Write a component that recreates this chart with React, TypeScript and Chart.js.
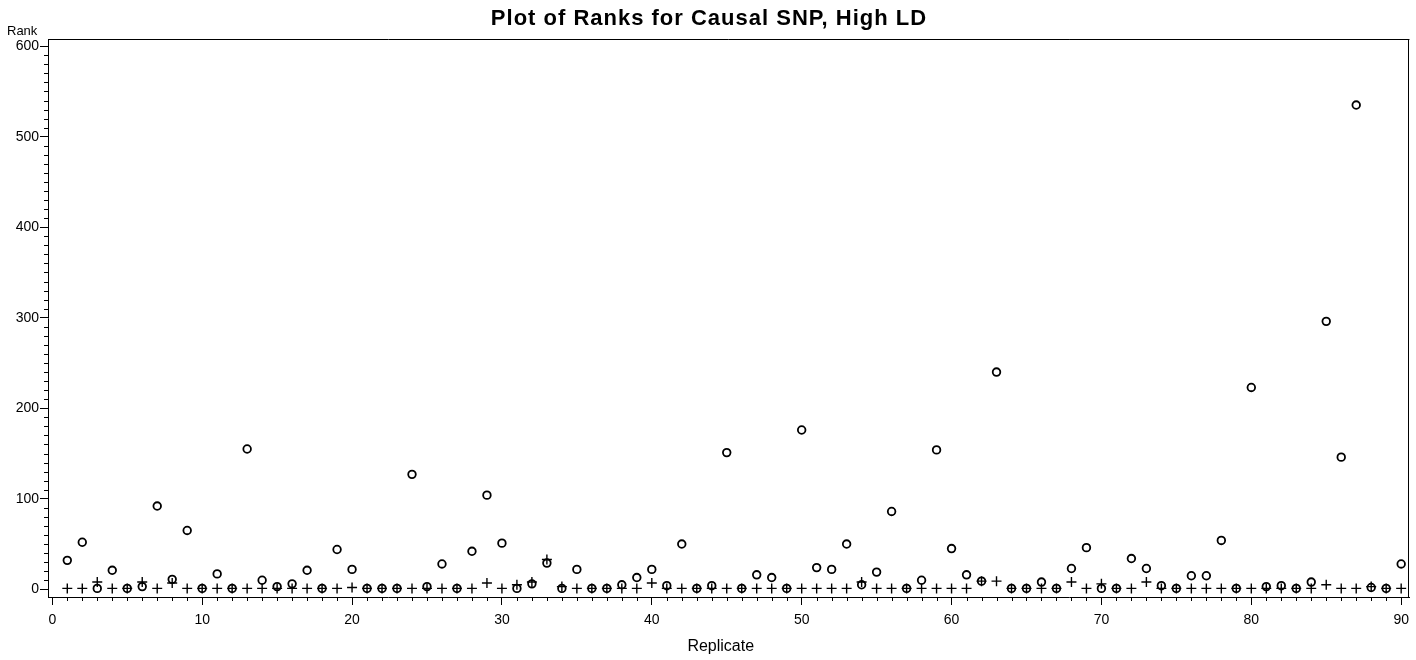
import React, { useEffect, useRef } from "react";
import { Chart, registerables } from "chart.js";

Chart.register(...registerables);

const TITLE = "Plot of Ranks for Causal SNP, High LD";
const Y_LABEL = "Rank";
const X_LABEL = "Replicate";

const replicates = [
  1, 2, 3, 4, 5, 6, 7, 8, 9, 10,
  11, 12, 13, 14, 15, 16, 17, 18, 19, 20,
  21, 22, 23, 24, 25, 26, 27, 28, 29, 30,
  31, 32, 33, 34, 35, 36, 37, 38, 39, 40,
  41, 42, 43, 44, 45, 46, 47, 48, 49, 50,
  51, 52, 53, 54, 55, 56, 57, 58, 59, 60,
  61, 62, 63, 64, 65, 66, 67, 68, 69, 70,
  71, 72, 73, 74, 75, 76, 77, 78, 79, 80,
  81, 82, 83, 84, 85, 86, 87, 88, 89, 90,
];

const circleRanks = [
  32, 52, 1, 21, 1, 3, 92, 11, 65, 1,
  17, 1, 155, 10, 3, 6, 21, 1, 44, 22,
  1, 1, 1, 127, 3, 28, 1, 42, 104, 51,
  1, 6, 29, 1, 22, 1, 1, 5, 13, 22,
  4, 50, 1, 4, 151, 1, 16, 13, 1, 176,
  24, 22, 50, 5, 19, 86, 1, 10, 154, 45,
  16, 9, 240, 1, 1, 8, 1, 23, 46, 1,
  1, 34, 23, 4, 1, 15, 15, 54, 1, 223,
  3, 4, 1, 8, 296, 146, 535, 2, 1, 28,
];

const plusRanks = [
  1, 1, 8, 1, 1, 8, 1, 7, 1, 1,
  1, 1, 1, 1, 1, 1, 1, 1, 1, 2,
  1, 1, 1, 1, 1, 1, 1, 1, 7, 1,
  5, 8, 33, 3, 1, 1, 1, 1, 1, 7,
  1, 1, 1, 1, 1, 1, 1, 1, 1, 1,
  1, 1, 1, 8, 1, 1, 1, 1, 1, 1,
  1, 9, 9, 1, 1, 1, 1, 8, 1, 6,
  1, 1, 8, 1, 1, 1, 1, 1, 1, 1,
  1, 1, 1, 1, 5, 1, 1, 3, 1, 1,
];

const xTickValues = [0, 10, 20, 30, 40, 50, 60, 70, 80, 90];
const yTickValues = [0, 100, 200, 300, 400, 500, 600];
const X_MINOR_STEP = 1;
const Y_MINOR_STEP = 10;

const FONT = "'Liberation Sans', Arial, Helvetica, sans-serif";

const decorPlugin = {
  id: "decor",
  afterDraw(chart: any) {
    const { ctx, chartArea: ca, scales, width } = chart;
    const xs = scales.x;
    const ys = scales.y;
    ctx.save();
    ctx.strokeStyle = "#000";
    ctx.lineWidth = 1;
    ctx.beginPath();
    // frame top and right
    ctx.moveTo(ca.left, Math.round(ca.top) + 0.5);
    ctx.lineTo(ca.right, Math.round(ca.top) + 0.5);
    ctx.moveTo(Math.round(ca.right) - 0.5, ca.top);
    ctx.lineTo(Math.round(ca.right) - 0.5, ca.bottom);
    // minor ticks y
    const y0 = yTickValues[0];
    const y1 = yTickValues[yTickValues.length - 1];
    for (let v = y0; v <= y1; v += Y_MINOR_STEP) {
      if (yTickValues.includes(v)) continue;
      const py = Math.round(ys.getPixelForValue(v)) + 0.5;
      ctx.moveTo(ca.left - 4, py);
      ctx.lineTo(ca.left, py);
    }
    // minor ticks x
    const x0 = xTickValues[0];
    const x1 = xTickValues[xTickValues.length - 1];
    for (let v = x0; v <= x1; v += X_MINOR_STEP) {
      if (xTickValues.includes(v)) continue;
      const px = Math.round(xs.getPixelForValue(v)) + 0.5;
      ctx.moveTo(px, ca.bottom);
      ctx.lineTo(px, ca.bottom + 4);
    }
    ctx.stroke();

    ctx.fillStyle = "#000";
    // title
    ctx.font = `bold 22px ${FONT}`;
    ctx.textAlign = "center";
    ctx.textBaseline = "middle";
    try {
      (ctx as any).letterSpacing = "1px";
    } catch (e) {}
    ctx.fillText(TITLE, width / 2 + 1, 19);
    try {
      (ctx as any).letterSpacing = "0px";
    } catch (e) {}

    ctx.font = `13px ${FONT}`;
    ctx.textAlign = "left";
    ctx.textBaseline = "middle";
    ctx.fillText(Y_LABEL, 7, 31);

    ctx.font = `16px ${FONT}`;
    ctx.textAlign = "center";
    ctx.textBaseline = "middle";
    ctx.fillText(X_LABEL, (ca.left + ca.right) / 2 - 8, 647);
    ctx.restore();
  },
};

export default function App() {
  const canvasRef = useRef<HTMLCanvasElement | null>(null);

  useEffect(() => {
    const canvas = canvasRef.current;
    if (!canvas) return;
    const chart = new Chart(canvas, {
      type: "scatter",
      data: {
        datasets: [
          {
            label: "Circle",
            data: replicates.map((r, i) => ({ x: r, y: circleRanks[i] })),
            pointStyle: "circle",
            pointRadius: 3.8,
            borderColor: "#000",
            backgroundColor: "rgba(0,0,0,0)",
            pointBorderWidth: 1.8,
          },
          {
            label: "Plus",
            data: replicates.map((r, i) => ({ x: r, y: plusRanks[i] })),
            pointStyle: "cross",
            pointRadius: 5,
            borderColor: "#000",
            backgroundColor: "#000",
            pointBorderWidth: 1.4,
          },
        ],
      },
      options: {
        animation: false,
        responsive: false,
        maintainAspectRatio: false,
        layout: { padding: { left: 0, right: 6, top: 39, bottom: 0 } },
        plugins: {
          legend: { display: false },
          tooltip: { enabled: false },
          title: { display: false },
        },
        scales: {
          x: {
            type: "linear",
            min: -0.287,
            max: 90.554,
            afterBuildTicks: (s: any) => {
              s.ticks = xTickValues.map((v) => ({ value: v }));
            },
            afterFit: (s: any) => {
              s.height = 63;
            },
            grid: {
              display: true,
              drawOnChartArea: false,
              drawTicks: true,
              tickLength: 8,
              color: "#000",
              tickColor: "#000",
              lineWidth: 1,
            },
            border: { display: true, color: "#000", width: 1 },
            ticks: {
              color: "#000",
              font: { family: FONT, size: 14 },
              padding: 7,
              maxRotation: 0,
              autoSkip: false,
            },
          },
          y: {
            type: "linear",
            min: -8.5,
            max: 607.95,
            afterBuildTicks: (s: any) => {
              s.ticks = yTickValues.map((v) => ({ value: v }));
            },
            afterFit: (s: any) => {
              s.width = 48;
            },
            grid: {
              display: true,
              drawOnChartArea: false,
              drawTicks: true,
              tickLength: 8,
              color: "#000",
              tickColor: "#000",
              lineWidth: 1,
            },
            border: { display: true, color: "#000", width: 1 },
            ticks: {
              color: "#000",
              font: { family: FONT, size: 14 },
              padding: 1,
              autoSkip: false,
            },
          },
        },
      },
      plugins: [decorPlugin],
    });
    return () => chart.destroy();
  }, []);

  return (
    <div style={{ position: "absolute", left: 0, top: 0, width: 1416, height: 660, background: "#fff" }}>
      <canvas ref={canvasRef} width={1416} height={660} style={{ display: "block", width: 1416, height: 660 }} />
    </div>
  );
}
